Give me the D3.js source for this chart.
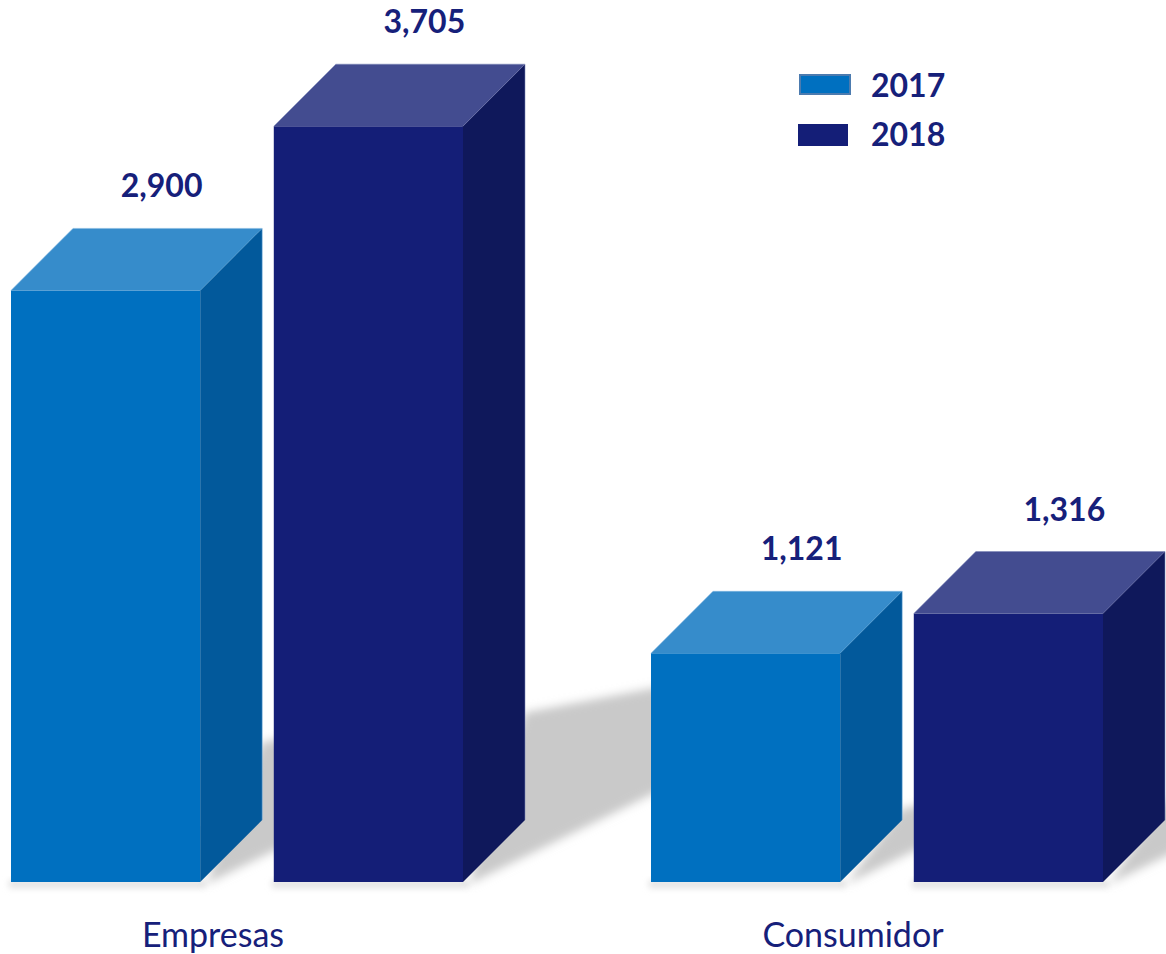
<!DOCTYPE html>
<html>
<head>
<meta charset="utf-8">
<script src="https://cdn.jsdelivr.net/npm/d3@7/dist/d3.min.js"></script>
<style>
  html, body { margin: 0; padding: 0; background: #ffffff; }
  svg { display: block; }
</style>
</head>
<body>
<script>
const categories = ["Empresas", "Consumidor"];
const series = ["2017", "2018"];
const values2017 = [2900, 1121];
const values2018 = [3705, 1316];

const W = 1166, H = 954;
const base = 882, depth = 62;
const frontColor = { "2017": "#0070C0", "2018": "#141E77" };
const sideColor  = { "2017": "#02599B", "2018": "#0F185B" };
const topColor   = { "2017": "#368CCB", "2018": "#434C90" };
const edgeColor  = { "2017": "#7FB6E0", "2018": "#7C84B8" };
const textColor = "#16207A";

const data = [];
categories.forEach((c, i) => {
  data.push({ cat: c, ser: "2017", v: values2017[i] });
  data.push({ cat: c, ser: "2018", v: values2018[i] });
});

const svg = d3.select("body").append("svg").attr("width", W).attr("height", H);
const defs = svg.append("defs");
defs.append("filter").attr("id", "blur").attr("x", "-50%").attr("y", "-50%").attr("width", "200%").attr("height", "200%")
  .append("feGaussianBlur").attr("stdDeviation", 5);
defs.append("filter").attr("id", "blur2").attr("x", "-50%").attr("y", "-50%").attr("width", "200%").attr("height", "400%")
  .append("feGaussianBlur").attr("stdDeviation", 3);

const x0 = d3.scaleBand().domain(categories).range([11, 1291]).paddingInner(0).paddingOuter(0);
const x1 = d3.scaleBand().domain(series).range([0, 452]).paddingInner(0.28).paddingOuter(0);
const y = d3.scaleLinear().domain([0, 4000]).range([base, base - 4000 * 0.204]);

const bx = d => x0(d.cat) + x1(d.ser);
const bw = x1.bandwidth();

// floor shadows under bars
svg.append("g").selectAll("rect").data(data).join("rect")
  .attr("x", d => bx(d) - 2).attr("y", base - 2).attr("width", bw + 8).attr("height", 8)
  .attr("fill", "#e2e2e2").attr("filter", "url(#blur2)");

// cast shadows
svg.append("g").selectAll("path").data(data).join("path")
  .attr("d", d => {
    const xr = bx(d) + bw;
    const h = base - y(d.v);
    const sh = Math.max(0, 0.182 * h - 30);
    const L = 150;
    const top0 = base - depth - sh;
    return d3.line()([
      [xr + 6, base + 2],
      [xr + depth, top0],
      [xr + depth + L, top0 - 0.19 * L],
      [xr + depth + L, base + 2 - 0.49 * (L + depth - 6)]
    ]) + "Z";
  })
  .attr("fill", "#c9c9c9").attr("filter", "url(#blur)");

// bars
const bars = svg.append("g").selectAll("g").data(data).join("g");
bars.append("path") // front
  .attr("d", d => {
    const x = bx(d), t = y(d.v);
    return d3.line()([[x, t], [x + bw, t], [x + bw, base], [x, base]]) + "Z";
  })
  .attr("fill", d => frontColor[d.ser]);
bars.append("path") // side
  .attr("d", d => {
    const x = bx(d) + bw, t = y(d.v);
    return d3.line()([[x, t], [x + depth, t - depth], [x + depth, base - depth], [x, base]]) + "Z";
  })
  .attr("fill", d => sideColor[d.ser]);
bars.append("path") // top
  .attr("d", d => {
    const x = bx(d), t = y(d.v);
    return d3.line()([[x, t], [x + depth, t - depth], [x + bw + depth, t - depth], [x + bw, t]]) + "Z";
  })
  .attr("fill", d => topColor[d.ser]);
bars.append("path") // light edges
  .attr("d", d => {
    const x = bx(d), t = y(d.v);
    return d3.line()([[x, t], [x + depth, t - depth], [x + bw + depth, t - depth], [x + bw + depth, base - depth]]);
  })
  .attr("fill", "none").attr("stroke", d => edgeColor[d.ser]).attr("stroke-width", 0.8).attr("stroke-opacity", 0.7);

// value labels
const fmt = d3.format(",");
svg.append("g").selectAll("text").data(data).join("text")
  .attr("x", d => bx(d) + bw / 2 + 56)
  .attr("y", d => y(d.v) - depth - 31)
  .attr("text-anchor", "middle")
  .attr("font-family", "Lato, 'Open Sans', sans-serif")
  .attr("font-weight", "bold")
  .attr("font-size", 32)
  .attr("fill", textColor)
  .text(d => fmt(d.v));

// category labels
svg.append("g").selectAll("text").data(categories).join("text")
  .attr("x", c => x0(c) + 202)
  .attr("y", 947)
  .attr("text-anchor", "middle")
  .attr("font-family", "Lato, 'Open Sans', sans-serif")
  .attr("font-size", 34)
  .attr("fill", textColor)
  .text(c => c);

// legend
const legend = svg.append("g");
const legY = [75, 124];
series.forEach((s, i) => {
  const g = legend.append("g");
  if (s === "2017") {
    g.append("rect").attr("x", 800).attr("y", legY[i]).attr("width", 50).attr("height", 19)
      .attr("fill", frontColor[s]).attr("stroke", "#4C7BAF").attr("stroke-width", 2);
  } else {
    g.append("rect").attr("x", 798).attr("y", legY[i]).attr("width", 50).attr("height", 22)
      .attr("fill", frontColor[s]);
  }
  g.append("text").attr("x", 871).attr("y", legY[i] + 22)
    .attr("font-family", "Lato, 'Open Sans', sans-serif")
    .attr("font-weight", "bold").attr("font-size", 32)
    .attr("fill", textColor).text(s);
});
</script>
</body>
</html>
